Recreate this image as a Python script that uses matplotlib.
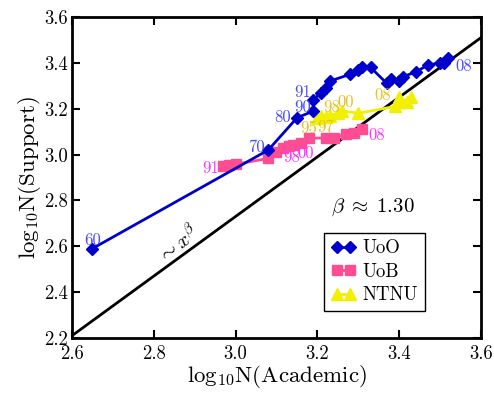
import matplotlib
matplotlib.use("Agg")
import matplotlib.pyplot as plt
import numpy as np

plt.rcParams['font.family'] = 'cmr10'
plt.rcParams['mathtext.fontset'] = 'cm'
plt.rcParams['axes.formatter.use_mathtext'] = True

# UoO
uoo_x = [2.65, 3.08, 3.15, 3.19, 3.19, 3.21, 3.22, 3.23, 3.28, 3.30, 3.31, 3.33, 3.37, 3.38, 3.40, 3.41, 3.44, 3.47, 3.50, 3.51, 3.52]
uoo_y = [2.59, 3.02, 3.16, 3.19, 3.24, 3.27, 3.29, 3.32, 3.35, 3.37, 3.38, 3.38, 3.31, 3.33, 3.32, 3.34, 3.36, 3.39, 3.40, 3.40, 3.42]
# UoB
uob_x = [2.97, 2.985, 3.00, 3.08, 3.10, 3.115, 3.13, 3.14, 3.16, 3.18, 3.22, 3.24, 3.27, 3.29, 3.31]
uob_y = [2.950, 2.955, 2.958, 2.983, 3.010, 3.030, 3.038, 3.042, 3.052, 3.072, 3.072, 3.074, 3.088, 3.096, 3.110]
# NTNU
ntnu_x = [3.20, 3.21, 3.22, 3.23, 3.25, 3.26, 3.30, 3.39, 3.40, 3.40, 3.42, 3.43]
ntnu_y = [3.16, 3.17, 3.165, 3.17, 3.18, 3.19, 3.18, 3.21, 3.23, 3.25, 3.23, 3.25]

beta = 1.30
intercept = -1.17

uoo_labels = [("60", 2.651, 2.627), ("70", 3.05, 3.033), ("80", 3.115, 3.164), ("90", 3.163, 3.205), ("91", 3.163, 3.273), ("08", 3.557, 3.385)]
uob_labels = [("91", 2.938, 2.94), ("98", 3.136, 2.987), ("00", 3.172, 3.005), ("08", 3.345, 3.085)]
ntnu_labels = [("95", 3.178, 3.116), ("97", 3.221, 3.12), ("98", 3.234, 3.205), ("00", 3.27, 3.228), ("08", 3.36, 3.258)]

fig = plt.figure(figsize=(4.94, 3.95), dpi=100)
ax = fig.add_axes([0.1457, 0.1443, 0.828, 0.8127])

xs = np.array([2.6, 3.6])
ax.plot(xs, beta * xs + intercept, color='black', lw=2, zorder=1)

ax.plot(uoo_x, uoo_y, color='#0000cc', lw=2, marker='D', ms=6.5, mec='#0000cc', label='UoO', zorder=3)
ax.plot(uob_x, uob_y, color='#ff4d94', lw=2, marker='s', ms=7, mec='#ff4d94', label='UoB', zorder=2)
ax.plot(ntnu_x, ntnu_y, color='#f0f000', lw=2, marker='^', ms=8.5, mec='#f0f000', label='NTNU', zorder=2)

for t, x, y in uoo_labels:
    ax.text(x, y, t, color='#4a4aff', fontsize=12, ha='center', va='center')
for t, x, y in uob_labels:
    ax.text(x, y, t, color='#ff33ff', fontsize=12, ha='center', va='center')
for t, x, y in ntnu_labels:
    ax.text(x, y, t, color='#e8c020', fontsize=12, ha='center', va='center')

ax.text(2.86, 2.61, r'$\sim x^{\beta}$', rotation=38, fontsize=15, ha='center', va='center')
ax.text(3.335, 2.77, r'$\beta\;\approx\;1.30$', fontsize=15, ha='center', va='center')

ax.set_xlim(2.6, 3.6)
ax.set_ylim(2.2, 3.6)
ax.set_xticks(np.arange(2.6, 3.61, 0.2))
ax.set_yticks(np.arange(2.2, 3.61, 0.2))
ax.set_xticklabels(['2.6', '2.8', '3.0', '3.2', '3.4', '3.6'])
ax.set_yticklabels(['2.2', '2.4', '2.6', '2.8', '3.0', '3.2', '3.4', '3.6'])
ax.tick_params(direction='in', top=True, right=True, length=6, width=1.5, labelsize=13.5, pad=3)
ax.tick_params(axis='x', pad=5)
for s in ax.spines.values():
    s.set_linewidth(2)

ax.set_xlabel(r'$\mathrm{log}_{10}\mathrm{N(Academic)}$', fontsize=16.5, labelpad=0)
ax.set_ylabel(r'$\mathrm{log}_{10}\mathrm{N(Support)}$', fontsize=16.5, labelpad=1)

leg = ax.legend(loc='lower right', bbox_to_anchor=(0.863, 0.084), borderaxespad=0, numpoints=2, fontsize=13.5,
                fancybox=False, edgecolor='black', framealpha=1, handlelength=1.3,
                handletextpad=0.4, borderpad=0.35, labelspacing=0.3)
leg.get_frame().set_linewidth(1)

fig.savefig('out.png', dpi=100)
